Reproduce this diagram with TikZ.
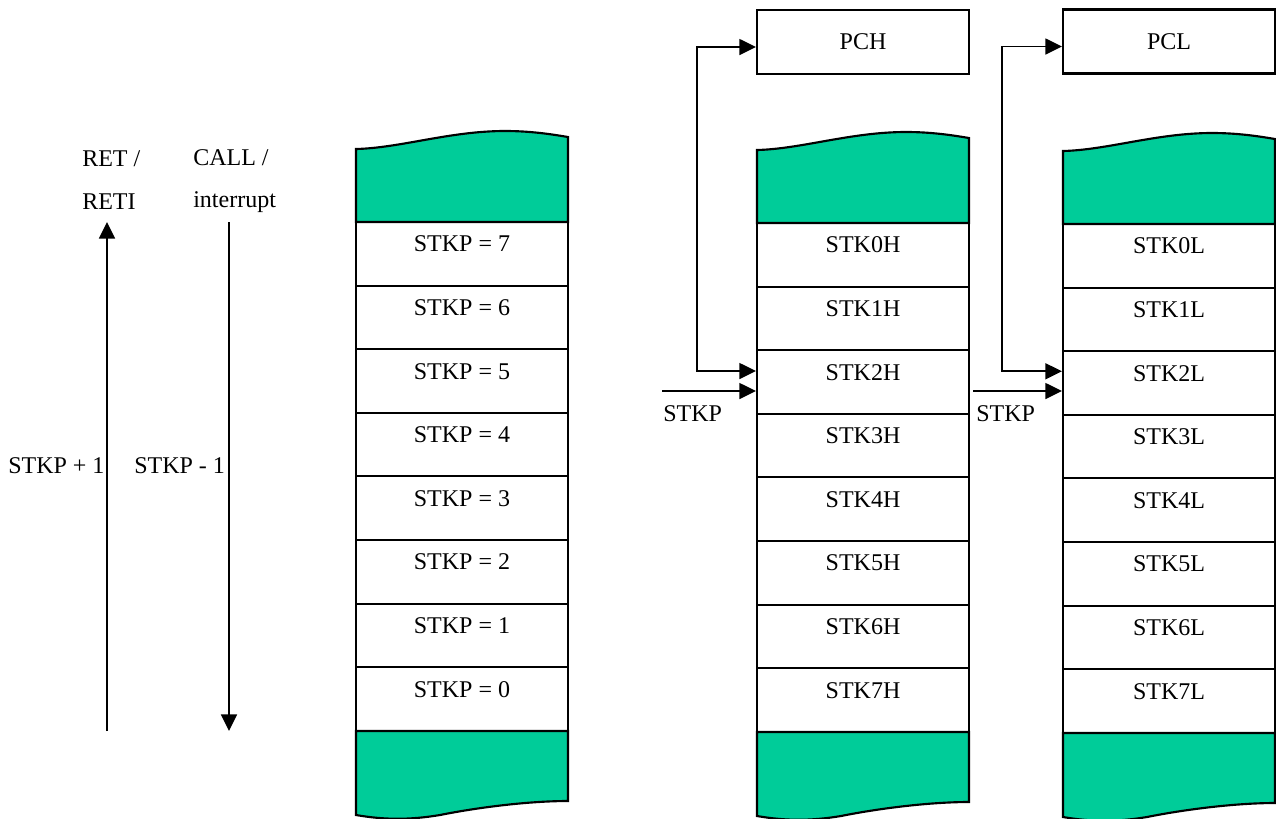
\documentclass[tikz,border=0pt]{standalone}
\usepackage{fontspec}
\setmainfont{Liberation Serif}
\usetikzlibrary{arrows.meta}
\definecolor{stackgreen}{RGB}{0,204,153}
\tikzset{
  txt/.style={font=\fontsize{18pt}{22pt}\selectfont},
  cell/.style={txt, draw, line width=1.6pt, minimum width=159pt, minimum height=47.7pt,
    inner sep=0pt, text height=12pt, text depth=15pt},
  pcbox/.style={txt, draw, line width=1.6pt, minimum width=159pt, minimum height=48pt},
  lbl/.style={txt, anchor=base west, inner sep=0pt},
  greenend/.style={fill=stackgreen, draw, line width=1.6pt},
  arr/.style={line width=1.3pt, -{Triangle[length=12.5pt,width=12pt]}},
  dblarr/.style={line width=1.3pt, {Triangle[length=12.5pt,width=12pt]}-{Triangle[length=12.5pt,width=12pt]}}
}
\begin{document}
\begin{tikzpicture}[x=0.75pt,y=-0.75pt]
      \useasboundingbox (0,0) rectangle (1276,818);
      \foreach \dx/\dy in {0/0,401/1,707/2}{
        \begin{scope}[shift={(\dx,\dy)}]
          \draw[greenend] (356,222) -- (356,149) .. controls (400,148) and (450,131) .. (505,131)
            .. controls (530,131) and (550,134) .. (568,137) -- (568,222) -- cycle;
          \draw[greenend] (356,731) -- (356,815) .. controls (385,820) and (410,820) .. (440,815)
            .. controls (480,807) and (530,801) .. (568,801) -- (568,731) -- cycle;
        \end{scope}
      }
      \foreach \i in {0,...,7}{
        \pgfmathtruncatemacro\lvl{7-\i}
        \node[cell] (s\lvl) at (462,253.8+63.6*\i) {STKP = \lvl};
        \node[cell] (h\i) at (863,254.8+63.6*\i) {STK\i H};
        \node[cell] (l\i) at (1169,255.8+63.6*\i) {STK\i L};
      }
      \node[pcbox] (pch) at (863,42) {PCH};
      \node[pcbox] (pcl) at (1169,41.5) {PCL};
      \node[lbl] (ret) at (82,166) {RET /};
      \node[lbl] (reti) at (82,209) {RETI};
      \node[lbl] (call) at (193,165) {CALL /};
      \node[lbl] (intr) at (193,207) {interrupt};
      \node[lbl] (inc) at (8,473) {STKP + 1};
      \node[lbl] (dec) at (134,473) {STKP - 1};
      \node[lbl] (ptrh) at (663,421) {STKP};
      \node[lbl] (ptrl) at (976,421) {STKP};
      \coordinate (up0) at (107,731);
      \coordinate (up1) at (107,222);
      \coordinate (dn0) at (229,222);
      \coordinate (dn1) at (229,731);
      \coordinate (ph) at (662,391);
      \coordinate (pl) at (973,391);
      \draw[arr] (up0) -- (up1);
      \draw[arr] (dn0) -- (dn1);
      \draw[dblarr] ([yshift=8.25pt]h2.west) -- ++(-59,0) |- ([yshift=-3.75pt]pch.west);
      \draw[dblarr] ([yshift=8.8pt]l2.west) -- ++(-60,0) |- ([yshift=-3.75pt]pcl.west);
      \draw[arr] (ph) -- (ph -| h2.west);
      \draw[arr] (pl) -- (pl -| l2.west);
    \end{tikzpicture}
\end{document}
